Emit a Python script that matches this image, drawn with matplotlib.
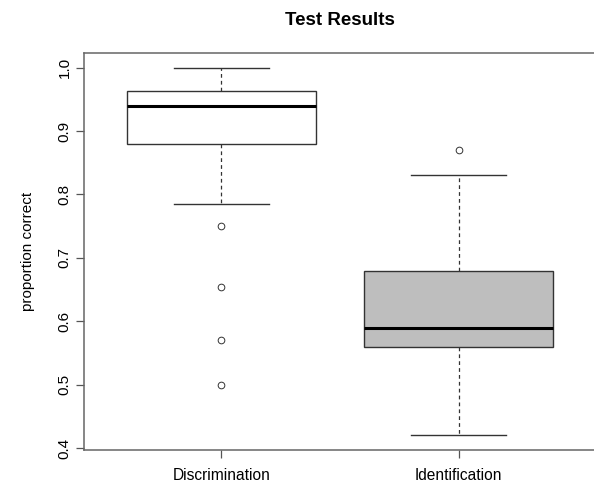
import matplotlib.pyplot as plt

# values
groups = ['Discrimination', 'Identification']
lower_whisker = [0.785, 0.42]
q1 = [0.88, 0.56]
medians = [0.94, 0.59]
q3 = [0.9636, 0.68]
upper_whisker = [1.0, 0.83]
outliers = [[0.75, 0.654, 0.571, 0.50], [0.87]]
box_colors = ['white', '#bebebe']

plt.rcParams['font.family'] = ['Liberation Sans', 'DejaVu Sans']

fig = plt.figure(figsize=(5.94, 4.83), dpi=100)
ax = fig.add_axes([0.1414, 0.0683, 0.862, 0.822])

stats = []
for i in range(len(groups)):
    stats.append({
        'whislo': lower_whisker[i], 'q1': q1[i], 'med': medians[i],
        'q3': q3[i], 'whishi': upper_whisker[i], 'fliers': outliers[i],
        'label': groups[i],
    })

bp = ax.bxp(stats, positions=[1, 2], widths=0.8, patch_artist=True,
            showfliers=True,
            boxprops=dict(edgecolor='#333333', linewidth=1.0),
            medianprops=dict(color='black', linewidth=2.2),
            whiskerprops=dict(color='#333333', linewidth=0.9, linestyle=(0, (3, 2.5))),
            capprops=dict(color='#333333', linewidth=1.0),
            capwidths=0.4,
            flierprops=dict(marker='o', markersize=4.8, markerfacecolor='none',
                            markeredgecolor='#333333', markeredgewidth=0.7))
for patch, c in zip(bp['boxes'], box_colors):
    patch.set_facecolor(c)

ax.set_xlim(0.42, 2.58)
ax.set_ylim(0.3968, 1.0232)
ax.set_yticks([0.4, 0.5, 0.6, 0.7, 0.8, 0.9, 1.0])
ax.set_yticklabels(['0.4', '0.5', '0.6', '0.7', '0.8', '0.9', '1.0'],
                   rotation=90, va='center', fontsize=11)
ax.set_xticks([1, 2])
ax.set_xticklabels(groups, fontsize=11.2)
ax.tick_params(axis='both', length=6, color='#555555', width=0.9)
ax.tick_params(axis='y', pad=3)
ax.tick_params(axis='x', pad=7)
for sp in ax.spines.values():
    sp.set_color('#666666')
    sp.set_linewidth(1.1)

ax.set_ylabel('proportion correct', fontsize=11, labelpad=16)
ax.set_title('Test Results', fontsize=13.5, fontweight='bold', pad=20)

fig.savefig('out.png', dpi=100)
